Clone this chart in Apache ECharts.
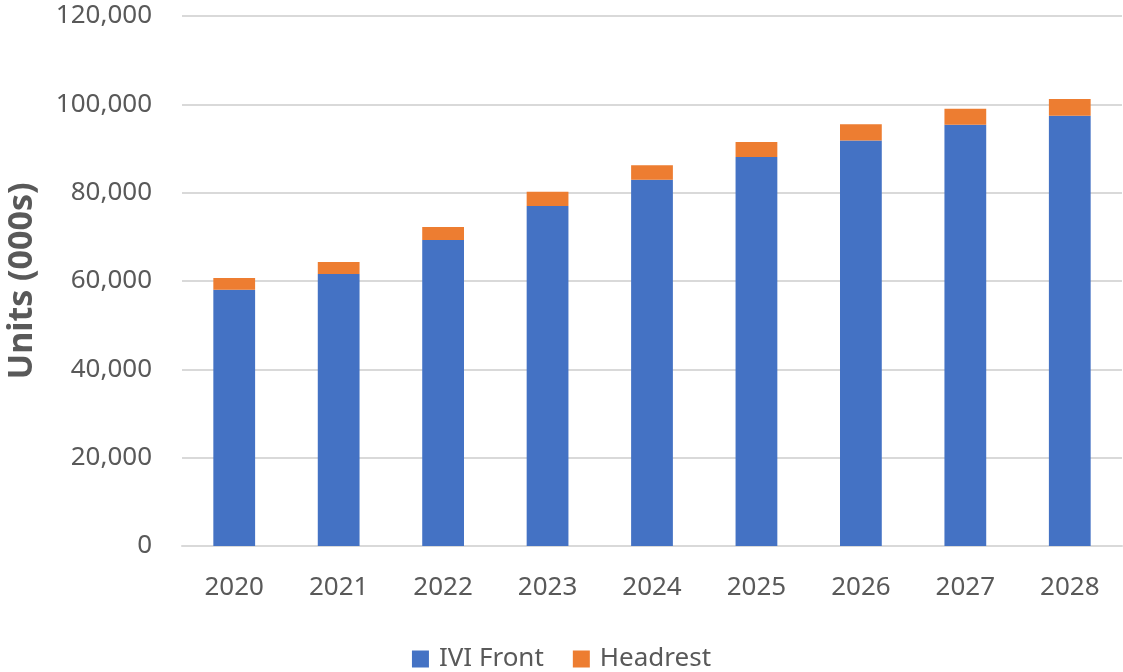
<!DOCTYPE html>
<html>
<head>
<meta charset="utf-8">
<script src="https://cdn.jsdelivr.net/npm/echarts@6/dist/echarts.min.js"></script>
<style>html,body{margin:0;padding:0;background:#fff;}#c{width:1123px;height:672px;}</style>
</head>
<body>
<div id="c"></div>
<script>
const categories = ['2020','2021','2022','2023','2024','2025','2026','2027','2028'];
const ivi = [58000, 61600, 69300, 77000, 82900, 88100, 91800, 95400, 97400];
const headrest = [2700, 2700, 2900, 3200, 3300, 3400, 3700, 3600, 3800];
const yTitle = 'Units (000s)';

const font = 'Noto Sans';
const chart = echarts.init(document.getElementById('c'));
chart.setOption({
  animation: false,
  textStyle: { fontFamily: font },
  grid: { left: 182, right: 1, top: 16, bottom: 126, containLabel: false, outerBoundsMode: 'none' },
  legend: {
    top: 641, left: 'center', itemWidth: 17, itemHeight: 17, itemGap: 29,
    icon: 'rect',
    textStyle: { fontSize: 26, color: '#595959', fontFamily: font, padding: [0, 0, 0, 5] },
    data: ['IVI Front', 'Headrest']
  },
  xAxis: {
    type: 'category', data: categories,
    axisLine: { lineStyle: { color: '#d9d9d9', width: 2 } },
    axisTick: { show: false },
    axisLabel: { fontSize: 26, color: '#595959', margin: 29 }
  },
  yAxis: {
    type: 'value', min: 0, max: 120000, interval: 20000,
    name: yTitle, nameLocation: 'middle', nameGap: 143,
    nameTextStyle: { fontSize: 34, fontWeight: 'bold', color: '#595959' },
    axisLine: { show: false }, axisTick: { show: false },
    splitLine: { lineStyle: { color: '#d9d9d9', width: 2 } },
    axisLabel: { fontSize: 26, color: '#595959', margin: 30,
      formatter: v => v.toLocaleString('en-US') }
  },
  series: [
    { name: 'IVI Front', type: 'bar', stack: 't', data: ivi, barWidth: '40%',
      itemStyle: { color: '#4472c4' } },
    { name: 'Headrest', type: 'bar', stack: 't', data: headrest, barWidth: '40%',
      itemStyle: { color: '#ed7d31' } }
  ]
});
</script>
</body>
</html>
